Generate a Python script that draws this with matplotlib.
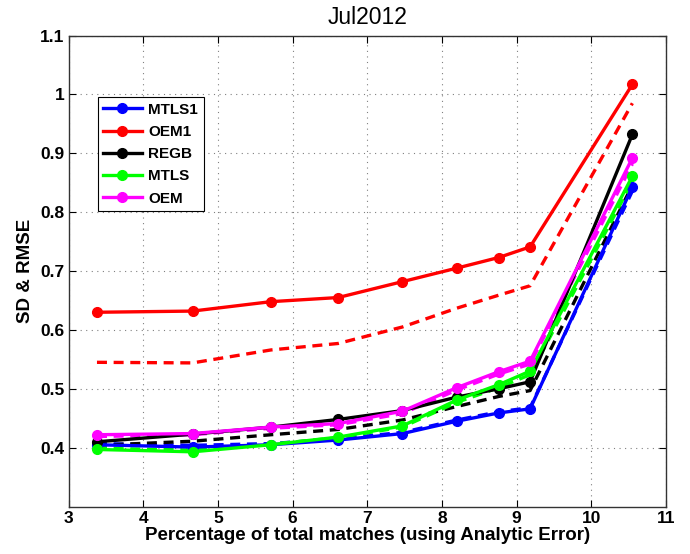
import matplotlib
matplotlib.use("Agg")
import matplotlib.pyplot as plt

plt.rcParams['font.family'] = ['Liberation Sans', 'DejaVu Sans']

# Percentage of total matches (x positions shared by all series)
pct = [3.38, 4.66, 5.71, 6.61, 7.47, 8.20, 8.76, 9.18, 10.55]

# Solid lines with markers
mtls1 = [0.405, 0.401, 0.405, 0.413, 0.424, 0.445, 0.459, 0.466, 0.843]
oem1 = [0.630, 0.632, 0.648, 0.655, 0.682, 0.705, 0.723, 0.741, 1.017]
regb = [0.410, 0.423, 0.435, 0.448, 0.463, 0.486, 0.500, 0.512, 0.932]
mtls = [0.397, 0.393, 0.405, 0.418, 0.437, 0.481, 0.507, 0.530, 0.861]
oem = [0.422, 0.424, 0.435, 0.441, 0.462, 0.502, 0.529, 0.547, 0.892]

# Dashed companions
mtls1_d = [0.407, 0.404, 0.407, 0.415, 0.426, 0.447, 0.461, 0.468, 0.836]
oem1_d = [0.545, 0.544, 0.566, 0.577, 0.605, 0.637, 0.659, 0.675, 0.985]
regb_d = [0.404, 0.411, 0.422, 0.431, 0.447, 0.470, 0.487, 0.497, 0.846]
mtls_d = [0.399, 0.396, 0.406, 0.417, 0.435, 0.477, 0.502, 0.524, 0.852]
oem_d = [0.419, 0.422, 0.433, 0.439, 0.458, 0.498, 0.525, 0.542, 0.882]

names = ["MTLS1", "OEM1", "REGB", "MTLS", "OEM"]
colors = ["#0000ff", "#ff0000", "#000000", "#00ff00", "#ff00ff"]
solid = [mtls1, oem1, regb, mtls, oem]
dashed = [mtls1_d, oem1_d, regb_d, mtls_d, oem_d]

xticks = [3, 4, 5, 6, 7, 8, 9, 10, 11]
yticks = [0.4, 0.5, 0.6, 0.7, 0.8, 0.9, 1.0, 1.1]
ytick_labels = ["0.4", "0.5", "0.6", "0.7", "0.8", "0.9", "1", "1.1"]

fig = plt.figure(figsize=(6.9, 5.54), dpi=100)
ax = fig.add_axes([0.0994, 0.0856, 0.8658, 0.8503])

handles = []
for vals, c, n in zip(solid, colors, names):
    h, = ax.plot(pct, vals, '-o', color=c, lw=2.4, ms=7, label=n, zorder=3)
    handles.append(h)
for vals, c in zip(dashed, colors):
    ax.plot(pct, vals, '--', color=c, lw=2.4, dashes=(3, 2), zorder=2)

ax.set_xlim(3, 11)
ax.set_ylim(0.3, 1.1)
ax.set_xticks(xticks)
ax.set_xticklabels([str(t) for t in xticks])
ax.set_yticks(yticks)
ax.set_yticklabels(ytick_labels)
ax.grid(True, linestyle=(0, (1, 4)), color='#808080', lw=0.8)
ax.tick_params(direction='in', top=True, right=True, length=5, width=0.8,
               labelsize=12.5, pad=3)
for lab in ax.get_xticklabels() + ax.get_yticklabels():
    lab.set_fontweight('bold')
for s in ax.spines.values():
    s.set_linewidth(1.0)
    s.set_color('#333333')

ax.set_title("Jul2012", fontsize=16.5, pad=8)
ax.set_xlabel("Percentage of total matches (using Analytic Error)",
              fontsize=13.5, fontweight='bold', labelpad=1)
ax.set_ylabel("SD & RMSE", fontsize=13.5, fontweight='bold', labelpad=4)

leg = ax.legend(handles=handles, loc='upper left', bbox_to_anchor=(0.049, 0.869),
                prop={'weight': 'bold', 'size': 11}, frameon=True,
                fancybox=False, edgecolor='black', framealpha=1,
                handlelength=2.5, borderpad=0.36, labelspacing=0.54,
                handletextpad=0.45, borderaxespad=0)
leg.get_frame().set_linewidth(0.8)

fig.savefig("out.png", dpi=100)
